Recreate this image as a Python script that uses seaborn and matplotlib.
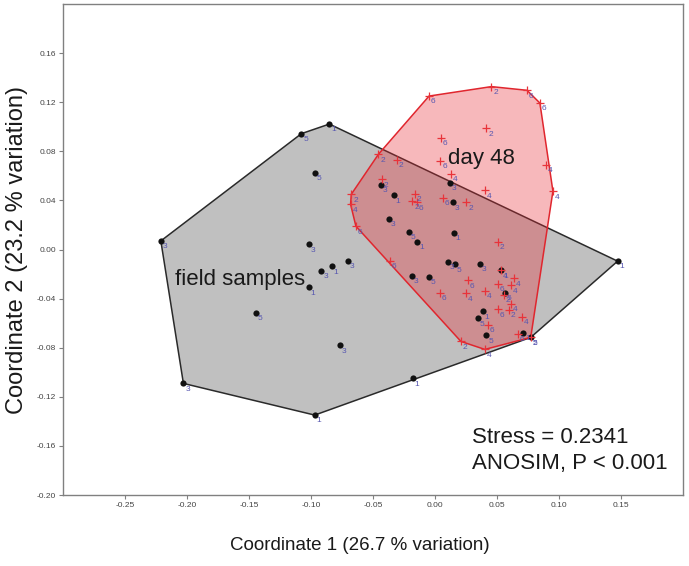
import matplotlib
matplotlib.use("Agg")
import matplotlib.pyplot as plt
import seaborn as sns
import pandas as pd
from matplotlib.patches import Polygon

# field samples (black dots), labelled by site
field_x = [-0.0852, -0.1077, -0.0970, -0.2211, -0.1018, -0.0434, -0.0333, -0.0375,
           -0.0212, -0.0142, 0.0121, 0.0145, 0.0153, -0.0916, -0.0831, -0.0703,
           -0.1018, -0.1442, -0.0764, -0.2029, -0.0970, -0.0180, 0.1473, 0.0772,
           0.0107, 0.0161, 0.0362, 0.0533, -0.0188, -0.0051, 0.0565, 0.0386,
           0.0346, 0.0415, 0.0712]
field_y = [0.1022, 0.0944, 0.0627, 0.0070, 0.0043, 0.0527, 0.0440, 0.0252,
           0.0143, 0.0065, 0.0542, 0.0383, 0.0135, -0.0174, -0.0138, -0.0093,
           -0.0309, -0.0516, -0.0781, -0.1091, -0.1349, -0.1050, -0.0095, -0.0716,
           -0.0098, -0.0122, -0.0117, -0.0171, -0.0215, -0.0223, -0.0353, -0.0505,
           -0.0562, -0.0700, -0.0679]
field_lab = ["1", "5", "5", "3", "3", "3", "1", "3",
             "5", "1", "3", "3", "1", "3", "1", "3",
             "1", "5", "3", "3", "1", "1", "1", "5",
             "3", "5", "3", "1", "3", "5", "5", "1",
             "5", "5", "1"]

# day 48 samples (red crosses)
day_x = [-0.0048, 0.0455, 0.0742, 0.0846, 0.0415, 0.0045, 0.0043, 0.0133,
         0.0402, 0.0897, 0.0951, -0.0456, -0.0309, -0.0429, -0.0675, -0.0681,
         -0.0638, -0.0161, -0.0182, -0.0146, 0.0061, 0.0254, 0.0509, -0.0365,
         0.0533, 0.0268, 0.0640, 0.0509, 0.0611, 0.0407, 0.0254, 0.0040,
         0.0555, 0.0613, 0.0509, 0.0597, 0.0704, 0.0428, 0.0670, 0.0772,
         0.0209, 0.0402]
day_y = [0.1250, 0.1327, 0.1297, 0.1193, 0.0987, 0.0908, 0.0721, 0.0619,
         0.0483, 0.0689, 0.0475, 0.0776, 0.0729, 0.0572, 0.0450, 0.0369,
         0.0190, 0.0456, 0.0393, 0.0385, 0.0423, 0.0383, 0.0062, -0.0090,
         -0.0171, -0.0250, -0.0234, -0.0282, -0.0291, -0.0337, -0.0358, -0.0353,
         -0.0372, -0.0445, -0.0488, -0.0494, -0.0549, -0.0614, -0.0689, -0.0716,
         -0.0749, -0.0814]
day_lab = ["6", "2", "6", "6", "2", "6", "6", "4",
           "4", "4", "4", "2", "2", "2", "2", "4",
           "6", "2", "2", "6", "6", "2", "2", "6",
           "4", "6", "4", "6", "4", "4", "4", "6",
           "2", "4", "6", "2", "4", "6", "6", "2",
           "2", "4"]

x_ticks = [-0.25, -0.20, -0.15, -0.10, -0.05, 0.00, 0.05, 0.10, 0.15]
y_ticks = [-0.20, -0.16, -0.12, -0.08, -0.04, 0.00, 0.04, 0.08, 0.12, 0.16]


def convex_hull(xs, ys):
    pts = sorted(set(zip(xs, ys)))

    def cross(o, a, b):
        return (a[0] - o[0]) * (b[1] - o[1]) - (a[1] - o[1]) * (b[0] - o[0])

    lower, upper = [], []
    for p in pts:
        while len(lower) >= 2 and cross(lower[-2], lower[-1], p) <= 0:
            lower.pop()
        lower.append(p)
    for p in reversed(pts):
        while len(upper) >= 2 and cross(upper[-2], upper[-1], p) <= 0:
            upper.pop()
        upper.append(p)
    return lower[:-1] + upper[:-1]


sns.set_style("white")
plt.rcParams["font.family"] = ["Liberation Sans", "DejaVu Sans"]

field = pd.DataFrame({"x": field_x, "y": field_y, "lab": field_lab})
day = pd.DataFrame({"x": day_x, "y": day_y, "lab": day_lab})

fig = plt.figure(figsize=(6.89, 5.66), dpi=100)
ax = fig.add_axes([63 / 689, 1 - 495 / 566, 620 / 689, 491 / 566])

# hulls
ax.add_patch(Polygon(convex_hull(field_x, field_y), closed=True,
                     facecolor="#c0c0c0", edgecolor="#2a2a2a", lw=1.1, zorder=1))
ax.add_patch(Polygon(convex_hull(day_x, day_y), closed=True,
                     facecolor=(0.91, 0.16, 0.2, 0.33), edgecolor="#e0262e",
                     lw=1.1, zorder=2))

sns.scatterplot(data=field, x="x", y="y", color="#111111", marker="o", s=20,
                linewidth=0, ax=ax, zorder=4)
sns.scatterplot(data=day, x="x", y="y", color="#e8333a", marker="+", s=30,
                linewidth=0.9, ax=ax, zorder=4)

for df in (field, day):
    for _, r in df.iterrows():
        ax.annotate(r["lab"], (r["x"], r["y"]), xytext=(1.3, -4.2),
                    textcoords="offset points", fontsize=6, color="#5757b0",
                    ha="left", va="center", zorder=5)

ax.text(-0.1575, -0.0245, "field samples", fontsize=16, color="#1a1a1a",
        ha="center", va="center", zorder=6)
ax.text(0.0375, 0.0745, "day 48", fontsize=16, color="#1a1a1a",
        ha="center", va="center", zorder=6)
ax.text(0.0295, -0.1638, "Stress = 0.2341\nANOSIM, P < 0.001", fontsize=16,
        color="#1a1a1a", ha="left", va="center", linespacing=1.3, zorder=6)

ax.set_xlim(-0.30, 0.20)
ax.set_ylim(-0.20, 0.20)
ax.set_xticks(x_ticks)
ax.set_xticklabels([f"{v:.2f}" for v in x_ticks])
ax.set_yticks(y_ticks)
ax.set_yticklabels([f"{v:.2f}" for v in y_ticks])
ax.tick_params(axis="both", direction="out", length=3, width=0.8,
               color="#808080", labelsize=6, labelcolor="#444444", pad=2,
               bottom=True, left=True)
for s in ax.spines.values():
    s.set_color("#808080")
    s.set_linewidth(1.0)

ax.set_xlabel("Coordinate 1 (26.7 % variation)", fontsize=13.5, color="#1a1a1a")
ax.set_ylabel("Coordinate 2 (23.2 % variation)", fontsize=17, color="#1a1a1a")
ax.xaxis.set_label_coords(0.479, -0.085)
ax.yaxis.set_label_coords(-0.057, 0.50)

fig.savefig("out.png", dpi=100)
